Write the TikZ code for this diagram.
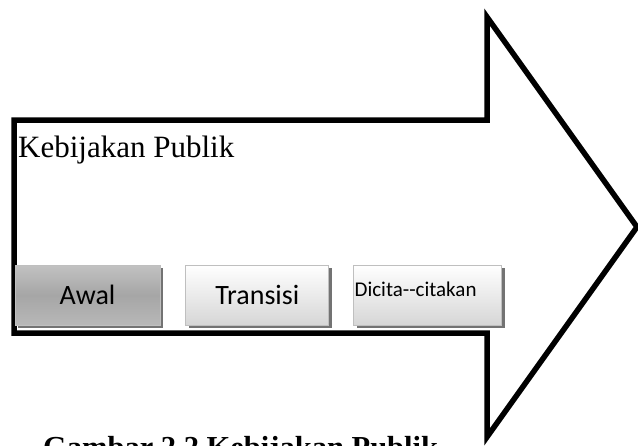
\documentclass[tikz,border=0pt]{standalone}
\usepackage{fontspec}
\setmainfont{Liberation Serif}
\newfontfamily\btnfont{Carlito}
\usetikzlibrary{positioning}
\usetikzlibrary{shadows}
\usetikzlibrary{shadings}

\begin{document}
\begin{tikzpicture}[x=1pt,y=-1pt]
		\tikzstyle{btn} = [rectangle, draw=black!25, line width=0.8pt, minimum height=60pt, inner sep=1pt,
		font=\btnfont\fontsize{28pt}{30pt}\selectfont,
		general shadow={fill=black!55, shadow xshift=3pt, shadow yshift=-3pt}]
		\tikzstyle{darkbtn} = [btn, top color=black!24, bottom color=black!28, middle color=black!35]
		\tikzstyle{lightbtn} = [btn, top color=white, bottom color=black!16]
		\tikzstyle{shaft} = [draw, line width=5.5pt, line join=miter]
		\useasboundingbox (0,0) rectangle (638,445);

		% Arrow
		\draw [shaft] (14,120) -- (487,120) -- (487,17) -- (637,227) -- (487,437) -- (487,333) -- (14,333) -- cycle;
		\node [anchor=base west, inner sep=0pt, font=\fontsize{31pt}{34pt}\selectfont] (a0) at (18,157) {Kebijakan Publik};

		% Stages
		\node [darkbtn, minimum width=145pt] (a1) at (87.5,295) {Awal};
		\node [lightbtn, minimum width=143pt, right=25pt of a1] (a2) {Transisi};
		\node [lightbtn, right=24pt of a2, text width=146pt, inner xsep=1pt, align=left, text depth=12pt,
		font=\btnfont\fontsize{21pt}{24pt}\selectfont] (a3) {Dicita--citakan};

		% Caption (cut by the lower edge)
		\node [anchor=base west, inner sep=0pt, font=\bfseries\fontsize{30.5pt}{34pt}\selectfont] (cap) at (43,457) {Gambar 2.2 Kebijakan Publik};
\end{tikzpicture}
\end{document}
